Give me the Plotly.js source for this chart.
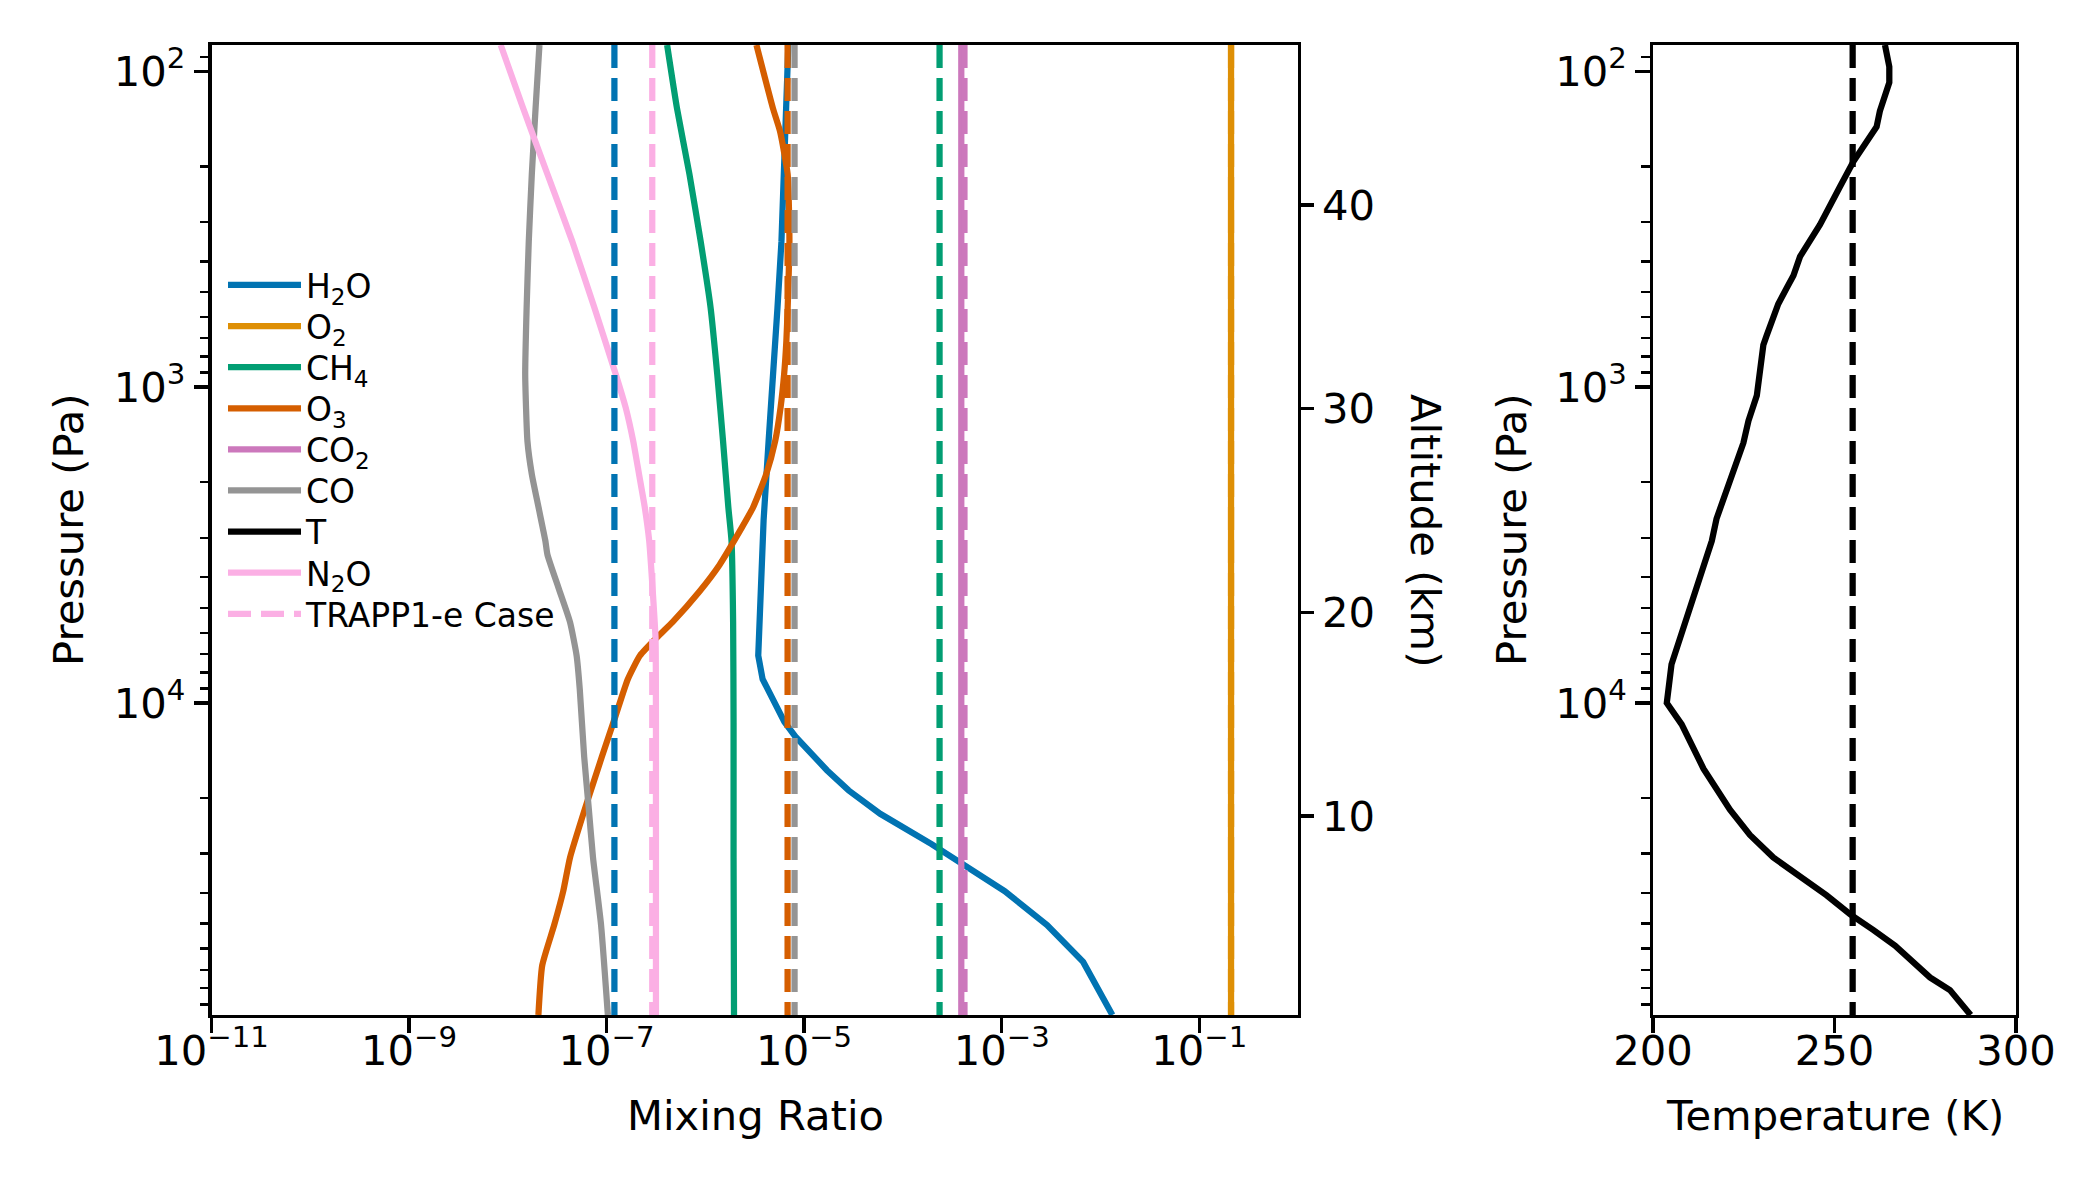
<!DOCTYPE html>
<html>
<head>
<meta charset="utf-8">
<script src="https://cdn.plot.ly/plotly-3.0.1.min.js"></script>
<style>
  html, body { margin: 0; padding: 0; background: #ffffff; }
  #chart { width: 2100px; height: 1200px; }
</style>
</head>
<body>
<div id="chart"></div>
<script>
// ---------------- data ----------------
// Mixing-ratio profiles: pressure (Pa) and volume mixing ratio
const h2oP = [82.6, 214, 347, 562, 912, 1479, 2630, 4365, 7079, 8414, 9772, 11482, 12764, 16331, 18923, 22439, 27990, 32434, 39446, 50466, 66069, 97300];
const h2oX = [6.92e-6, 6.31e-6, 5.89e-6, 5.37e-6, 4.79e-6, 4.37e-6, 3.89e-6, 3.63e-6, 3.43e-6, 3.80e-6, 4.79e-6, 6.31e-6, 8.13e-6, 1.70e-5, 2.82e-5, 5.89e-5, 1.95e-4, 3.98e-4, 1.07e-3, 2.88e-3, 6.68e-3, 1.32e-2];

const o3P = [82.6, 131, 155, 212, 345, 561, 714, 912, 1161, 1483, 1888, 2410, 2818, 3656, 4446, 5546, 6109, 7079, 8414, 11015, 14791, 21380, 30903, 39446, 50466, 67764, 97300];
const o3X = [3.29e-6, 4.83e-6, 5.70e-6, 6.81e-6, 7.10e-6, 6.81e-6, 6.61e-6, 6.27e-6, 5.77e-6, 5.09e-6, 4.13e-6, 3.03e-6, 2.29e-6, 1.39e-6, 8.67e-7, 4.65e-7, 3.40e-7, 2.18e-7, 1.64e-7, 1.23e-7, 8.97e-8, 6.11e-8, 4.26e-8, 3.64e-8, 2.95e-8, 2.23e-8, 2.04e-8];

const ch4P = [82.6, 131, 212, 345, 561, 912, 1483, 2410, 3069, 5546, 11560, 30903, 97300];
const ch4X = [4.10e-7, 5.16e-7, 6.90e-7, 8.95e-7, 1.13e-6, 1.32e-6, 1.51e-6, 1.71e-6, 1.84e-6, 1.91e-6, 1.93e-6, 1.93e-6, 1.95e-6];

const coP = [82.6, 131, 212, 345, 561, 912, 1483, 1888, 2410, 3069, 3396, 4335, 5546, 7079, 9057, 14791, 21380, 30903, 50466, 97300];
const coX = [2.09e-8, 1.91e-8, 1.75e-8, 1.63e-8, 1.55e-8, 1.50e-8, 1.58e-8, 1.75e-8, 2.05e-8, 2.40e-8, 2.52e-8, 3.27e-8, 4.26e-8, 4.97e-8, 5.35e-8, 5.93e-8, 6.58e-8, 7.29e-8, 8.79e-8, 1.03e-7];

const n2oP = [82.6, 131, 212, 345, 561, 912, 1161, 1483, 1888, 2410, 3069, 4335, 6266, 11560, 97300];
const n2oX = [8.47e-9, 1.43e-8, 2.52e-8, 4.48e-8, 7.53e-8, 1.24e-7, 1.56e-7, 1.86e-7, 2.13e-7, 2.44e-7, 2.70e-7, 2.92e-7, 3.13e-7, 3.16e-7, 3.16e-7];

const topBottomP = [82.6, 97300];
const o2X = [0.21, 0.21];
const co2X = [3.9e-4, 3.9e-4];

// TRAPPIST-1e case constant mixing ratios (dashed)
const trappSpecies = ["H2O", "O2", "CH4", "O3", "CO2", "CO", "N2O"];
const trappValues  = [1.2e-7, 0.21, 2.35e-4, 6.8e-6, 4.2e-4, 8.0e-6, 2.9e-7];

// Temperature profile
const tP = [82.6, 96.8, 108.6, 119.1, 133.7, 150, 160.7, 193.2, 232.3, 306.2, 386.4, 443.6, 486.4, 545.8, 687.1, 736.2, 1064, 1279, 1503, 2612, 3069, 3451, 6887, 7551, 10000, 11695, 16144, 21777, 26182, 30832, 40644, 46666, 52360, 58749, 73961, 81096, 97300];
const tK = [263.9, 265.1, 265.1, 263.9, 262.5, 261.6, 259.8, 255.2, 251.5, 246.0, 240.5, 238.7, 236.8, 234.5, 231.3, 230.4, 228.6, 226.3, 224.9, 217.5, 216.2, 214.8, 206.5, 205.1, 203.8, 207.9, 213.9, 221.2, 226.7, 233.1, 247.8, 254.3, 260.7, 266.7, 276.3, 281.8, 287.5];
const trappT = 255;

// Tick labels
const xTickVals = [1e-11, 1e-9, 1e-7, 1e-5, 1e-3, 1e-1];
const xTickText = ["10<sup>\u221211</sup>", "10<sup>\u22129</sup>", "10<sup>\u22127</sup>", "10<sup>\u22125</sup>", "10<sup>\u22123</sup>", "10<sup>\u22121</sup>"];
const pTickVals = [100, 1000, 10000];
const pTickText = ["10<sup>2</sup>", "10<sup>3</sup>", "10<sup>4</sup>"];
const altTickVals = [10, 20, 30, 40];
const tTickVals = [200, 250, 300];

// ---------------- styling ----------------
const colors = {
  H2O: "#0173b2", O2: "#de8f05", CH4: "#029e73", O3: "#d55e00",
  CO2: "#cc78bc", CO: "#949494", T: "#000000", N2O: "#fbafe4"
};
const LW = 6.25;
const DASH = "23px,10px";
const FONT = "DejaVu Sans, Liberation Sans, sans-serif";
const FS = 41.7;
const W = 2100, H = 1200;
const px = v => v / W;
const py = v => 1 - v / H;
const LEGEND_STEP = 41.1;

const minorP = [];
[10, 100, 1000, 10000].forEach(d => { for (let k = 2; k <= 9; k++) minorP.push(k * d); });

function nameKey(n) { return n.replace(/<\/?sub>/g, ""); }
function solid(name, x, y, rank, smooth, xa, ya) {
  const line = { color: colors[nameKey(name)], width: LW };
  if (smooth) { line.shape = "spline"; line.smoothing = 0.5; }
  return { type: "scatter", mode: "lines", name: name, x: x, y: y,
    xaxis: xa || "x", yaxis: ya || "y",
    line: line, legendrank: rank, hoverinfo: "skip" };
}

const traces = [];
traces.push(solid("H<sub>2</sub>O", h2oX, h2oP, 1, false));
traces.push(solid("O<sub>2</sub>", o2X, topBottomP, 2, false));
traces.push(solid("CH<sub>4</sub>", ch4X, ch4P, 3, true));
traces.push(solid("O<sub>3</sub>", o3X, o3P, 4, true));
traces.push(solid("CO<sub>2</sub>", co2X, topBottomP, 5, false));
traces.push(solid("CO", coX, coP, 6, true));
traces.push(solid("T", tK, tP, 7, false, "x2", "y3"));
traces.push(solid("N<sub>2</sub>O", n2oX, n2oP, 8, true));

trappSpecies.forEach((sp, i) => {
  const isN2O = sp === "N2O";
  traces.push({
    type: "scatter", mode: "lines",
    name: isN2O ? "TRAPP1-e Case" : sp + " (TRAPP1-e)",
    x: [trappValues[i], trappValues[i]], y: topBottomP,
    line: { color: colors[sp], width: LW, dash: DASH },
    showlegend: isN2O, legendrank: 9, hoverinfo: "skip"
  });
});
traces.push({
  type: "scatter", mode: "lines", name: "T (TRAPP1-e)",
  x: [trappT, trappT], y: topBottomP, xaxis: "x2", yaxis: "y3",
  line: { color: "#000000", width: LW, dash: DASH }, showlegend: false, hoverinfo: "skip"
});
// invisible trace so the altitude axis is drawn
traces.push({ type: "scatter", mode: "lines", x: [1e-11, 1e-11], y: [0.23, 47.85],
  xaxis: "x", yaxis: "y2", line: { width: 0, color: "rgba(0,0,0,0)" }, showlegend: false, hoverinfo: "skip" });

const tickfont = { family: FONT, size: FS, color: "#000" };
const baseAxis = {
  showline: true, linecolor: "#000", linewidth: 3.3, mirror: true,
  ticks: "outside", ticklen: 14.6, tickwidth: 3.3, tickcolor: "#000",
  showgrid: false, zeroline: false, tickfont: tickfont, fixedrange: true
};
const yDomain = [py(1015), py(45)];
const pRange = [Math.log10(97300), Math.log10(82.6)];
const minorTicks = { tickmode: "array", tickvals: minorP, ticks: "outside", ticklen: 8.3, tickwidth: 2.5, tickcolor: "#000", showgrid: false };

const layout = {
  width: W, height: H,
  margin: { l: 0, r: 0, t: 0, b: 0, pad: 0 },
  paper_bgcolor: "#fff", plot_bgcolor: "#fff",
  font: { family: FONT, color: "#000" },
  showlegend: true,
  legend: {
    x: px(223), y: py(257), xanchor: "left", yanchor: "top",
    bgcolor: "rgba(0,0,0,0)", borderwidth: 0,
    font: { family: FONT, size: 33, color: "#000" },
    itemwidth: 73, tracegroupgap: 0
  },
  xaxis: Object.assign({}, baseAxis, {
    type: "log", range: [-11, 0], domain: [px(211.5), px(1298)], anchor: "y",
    tickmode: "array", tickvals: xTickVals, ticktext: xTickText, ticklabelstandoff: -18
  }),
  yaxis: Object.assign({}, baseAxis, {
    type: "log", range: pRange, domain: yDomain, anchor: "x",
    tickmode: "array", tickvals: pTickVals, ticktext: pTickText, minor: minorTicks
  }),
  yaxis2: Object.assign({}, baseAxis, {
    overlaying: "y", side: "right", anchor: "x", range: [0.23, 47.85],
    tickmode: "array", tickvals: altTickVals, mirror: false, showline: false
  }),
  xaxis2: Object.assign({}, baseAxis, {
    range: [200, 300], domain: [px(1653), px(2016)], anchor: "y3",
    tickmode: "array", tickvals: tTickVals, ticklabelstandoff: -18
  }),
  yaxis3: Object.assign({}, baseAxis, {
    type: "log", range: pRange, domain: yDomain, anchor: "x2",
    tickmode: "array", tickvals: pTickVals, ticktext: pTickText, minor: minorTicks
  }),
  annotations: [
    { text: "Pressure (Pa)", xref: "paper", yref: "paper", x: px(68), y: py(530), textangle: -90,
      showarrow: false, xanchor: "center", yanchor: "middle", font: { family: FONT, size: FS } },
    { text: "Pressure (Pa)", xref: "paper", yref: "paper", x: px(1511), y: py(530), textangle: -90,
      showarrow: false, xanchor: "center", yanchor: "middle", font: { family: FONT, size: FS } },
    { text: "Altitude (km)", xref: "paper", yref: "paper", x: px(1426), y: py(530), textangle: 90,
      showarrow: false, xanchor: "center", yanchor: "middle", font: { family: FONT, size: FS } },
    { text: "Mixing Ratio", xref: "paper", yref: "paper", x: px(755), y: py(1115),
      showarrow: false, xanchor: "center", yanchor: "middle", font: { family: FONT, size: FS } },
    { text: "Temperature (K)", xref: "paper", yref: "paper", x: px(1834.5), y: py(1115),
      showarrow: false, xanchor: "center", yanchor: "middle", font: { family: FONT, size: FS } }
  ]
};

Plotly.newPlot("chart", traces, layout, { staticPlot: true, displayModeBar: false }).then(gd => {
  // tighten legend row spacing to match the reference (rows 41 px apart)
  const items = Array.from(gd.querySelectorAll(".legend .traces"));
  const parsed = items.map(g => {
    const m = /translate\(\s*([-\d.e]+)[ ,]+([-\d.e]+)\s*\)/.exec(g.getAttribute("transform") || "");
    return { g: g, x: m ? parseFloat(m[1]) : 0, y: m ? parseFloat(m[2]) : 0 };
  }).sort((a, b) => a.y - b.y);
  if (parsed.length) {
    const y0 = parsed[0].y;
    parsed.forEach((p, i) => p.g.setAttribute("transform", "translate(" + p.x + "," + (y0 + i * LEGEND_STEP) + ")"));
  }
});
</script>
</body>
</html>
